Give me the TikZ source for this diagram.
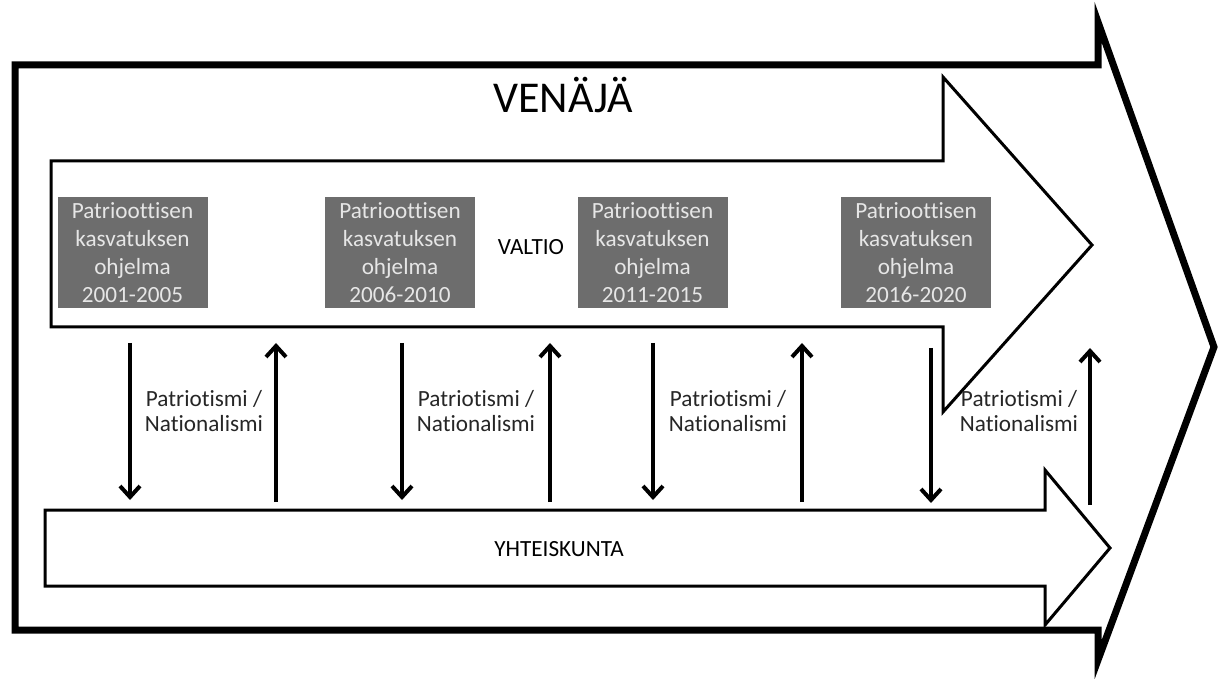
\documentclass[tikz,border=0pt]{standalone}
\usepackage{fontspec}
\setmainfont{Carlito}[Ligatures=NoCommon]
\usetikzlibrary{positioning,arrows.meta}
\definecolor{boxgray}{RGB}{109,109,109}
\definecolor{boxtext}{RGB}{230,230,230}

\begin{document}
\begin{tikzpicture}[x=0.5pt, y=-0.5pt,
	bigarrow/.style = { draw, line width=3.5pt, line join=miter },
	flatarrow/.style = { draw, line width=1.5pt, line join=miter },
	program/.style = { fill=boxgray, text=boxtext, minimum width=75pt,
			minimum height=55.5pt, inner sep=0pt, align=center,
			font=\fontsize{11.6}{14}\selectfont },
	flowlabel/.style = { align=center, text=black!85,
			font=\fontsize{11.6}{12.5}\selectfont },
	flow/.style = { line width=2pt, -{Straight Barb[length=5.5pt,width=10pt]} }]

  \useasboundingbox (0,0) rectangle (1227,679);

  \draw[bigarrow] (15,65) -- (1098,65) -- (1098,22) -- (1214,347)
    -- (1098,660) -- (1098,630) -- (15,630) -- cycle;
  \draw[flatarrow] (51,161) -- (943,161) -- (943,77) -- (1092,245)
    -- (943,412) -- (943,327) -- (51,327) -- cycle;
  \draw[flatarrow] (45,510) -- (1045,510) -- (1045,470) -- (1110,548)
    -- (1045,625) -- (1045,586) -- (45,586) -- cycle;

  \node[name=venaja, anchor=base, font=\fontsize{22}{26}\selectfont] at (563,113) {VENÄJÄ};
  \node[name=valtio, anchor=base, font=\fontsize{11.6}{13}\selectfont] at (531,255) {VALTIO};
  \node[name=yhteis, anchor=base, font=\fontsize{11.6}{13}\selectfont] at (559,556) {YHTEISKUNTA};

  \node[name=prog1, program] at (132.5,252.5) {Patrioottisen\\kasvatuksen\\ohjelma\\2001-2005};
  \node[name=prog2, program] at (400,252.5) {Patrioottisen\\kasvatuksen\\ohjelma\\2006-2010};
  \node[name=prog3, program] at (652.5,252.5) {Patrioottisen\\kasvatuksen\\ohjelma\\2011-2015};
  \node[name=prog4, program] at (916,252.5) {Patrioottisen\\kasvatuksen\\ohjelma\\2016-2020};

  \node[name=flow1, flowlabel] at (204,411) {Patriotismi /\\Nationalismi};
  \node[name=flow2, flowlabel] at (476,411) {Patriotismi /\\Nationalismi};
  \node[name=flow3, flowlabel] at (728,411) {Patriotismi /\\Nationalismi};
  \node[name=flow4, flowlabel] at (1019,411) {Patriotismi /\\Nationalismi};

  \coordinate (dn1a) at (130,343);  \coordinate (dn1b) at (130,500);
  \coordinate (up1a) at (276,502);  \coordinate (up1b) at (276,343);
  \coordinate (dn2a) at (402,343);  \coordinate (dn2b) at (402,500);
  \coordinate (up2a) at (550,502);  \coordinate (up2b) at (550,343);
  \coordinate (dn3a) at (653,343);  \coordinate (dn3b) at (653,500);
  \coordinate (up3a) at (802,502);  \coordinate (up3b) at (802,343);
  \coordinate (dn4a) at (931,348);  \coordinate (dn4b) at (931,503);
  \coordinate (up4a) at (1090,505); \coordinate (up4b) at (1090,348);

  \draw [flow] (dn1a) -- (dn1b);
  \draw [flow] (up1a) -- (up1b);
  \draw [flow] (dn2a) -- (dn2b);
  \draw [flow] (up2a) -- (up2b);
  \draw [flow] (dn3a) -- (dn3b);
  \draw [flow] (up3a) -- (up3b);
  \draw [flow] (dn4a) -- (dn4b);
  \draw [flow] (up4a) -- (up4b);
\end{tikzpicture}
\end{document}
